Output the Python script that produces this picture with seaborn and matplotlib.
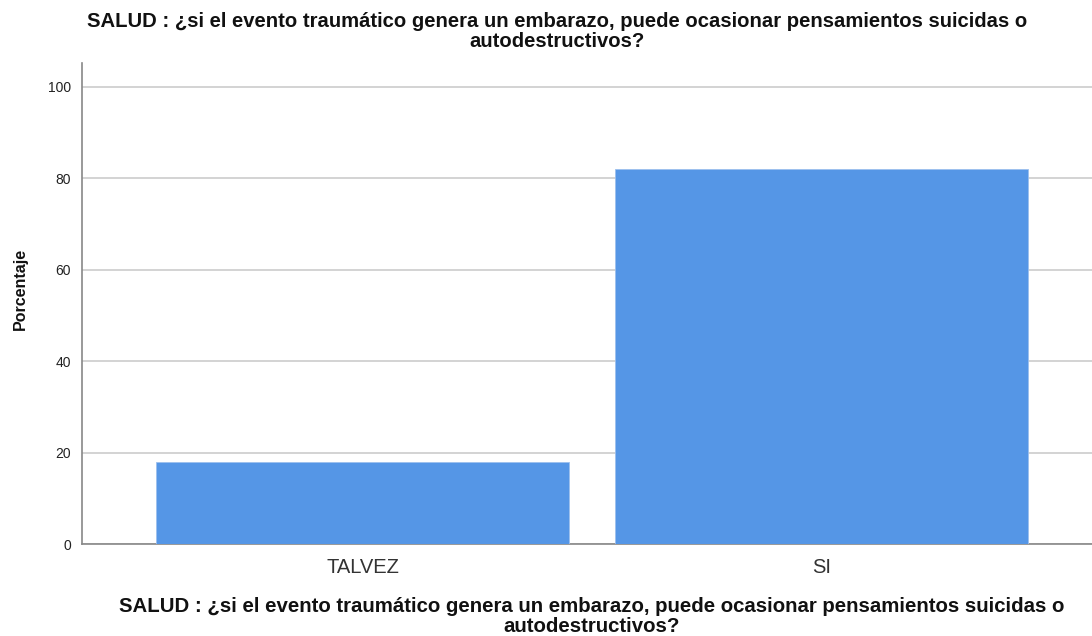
import matplotlib
matplotlib.use("Agg")
import matplotlib.pyplot as plt
import seaborn as sns
import pandas as pd

categories = ["TALVEZ", "SI"]
percentages = [18.0, 82.0]
yticks = [0, 20, 40, 60, 80, 100]
title = "SALUD : ¿si el evento traumático genera un embarazo, puede ocasionar pensamientos suicidas o\nautodestructivos?"

sns.set_theme(style="white")
plt.rcParams['font.family'] = ['Liberation Sans', 'DejaVu Sans']

df = pd.DataFrame({"cat": categories, "pct": percentages})

fig = plt.figure(figsize=(10.92, 6.36), dpi=100)
ax = fig.add_axes([82/1092, 1 - 544/636, (1092-82)/1092, (544-63)/636])

sns.barplot(data=df, x="cat", y="pct", color="#5596E6", saturation=1, width=0.9,
            edgecolor="#9DC0EE", linewidth=0.6, ax=ax, zorder=3)

ax.set_xlim(-0.611, 1.589)
ax.set_ylim(0, 105.2)
ax.set_yticks(yticks)
ax.set_yticklabels([str(t) for t in yticks], fontsize=10, color="#222222")
ax.tick_params(axis='x', labelsize=14.5, colors="#333333", length=0, pad=10)
ax.tick_params(axis='y', length=0, pad=8)
ax.yaxis.grid(True, color="#CCCCCC", linewidth=1.2, zorder=0)
ax.set_axisbelow(True)
for s in ["top", "right"]:
    ax.spines[s].set_visible(False)
ax.spines["left"].set_color("#888888")
ax.spines["bottom"].set_color("#888888")
ax.spines["left"].set_linewidth(1.2)
ax.spines["bottom"].set_linewidth(1.2)

ax.set_ylabel("Porcentaje", fontsize=11.5, fontweight="bold", color="#111111")
ax.yaxis.set_label_coords(-54/1010, (544-289)/481)
ax.set_xlabel(title, fontsize=14.7, fontweight="bold", linespacing=1.05, color="#111111")
ax.xaxis.set_label_coords((592-82)/1010, -(597-544)/481)

fig.text(557/1092, 1 - 12/636, title, ha="center", va="top", fontsize=14.6,
         fontweight="bold", linespacing=1.05, color="#111111")

fig.savefig("out.png", dpi=100, facecolor="white")
